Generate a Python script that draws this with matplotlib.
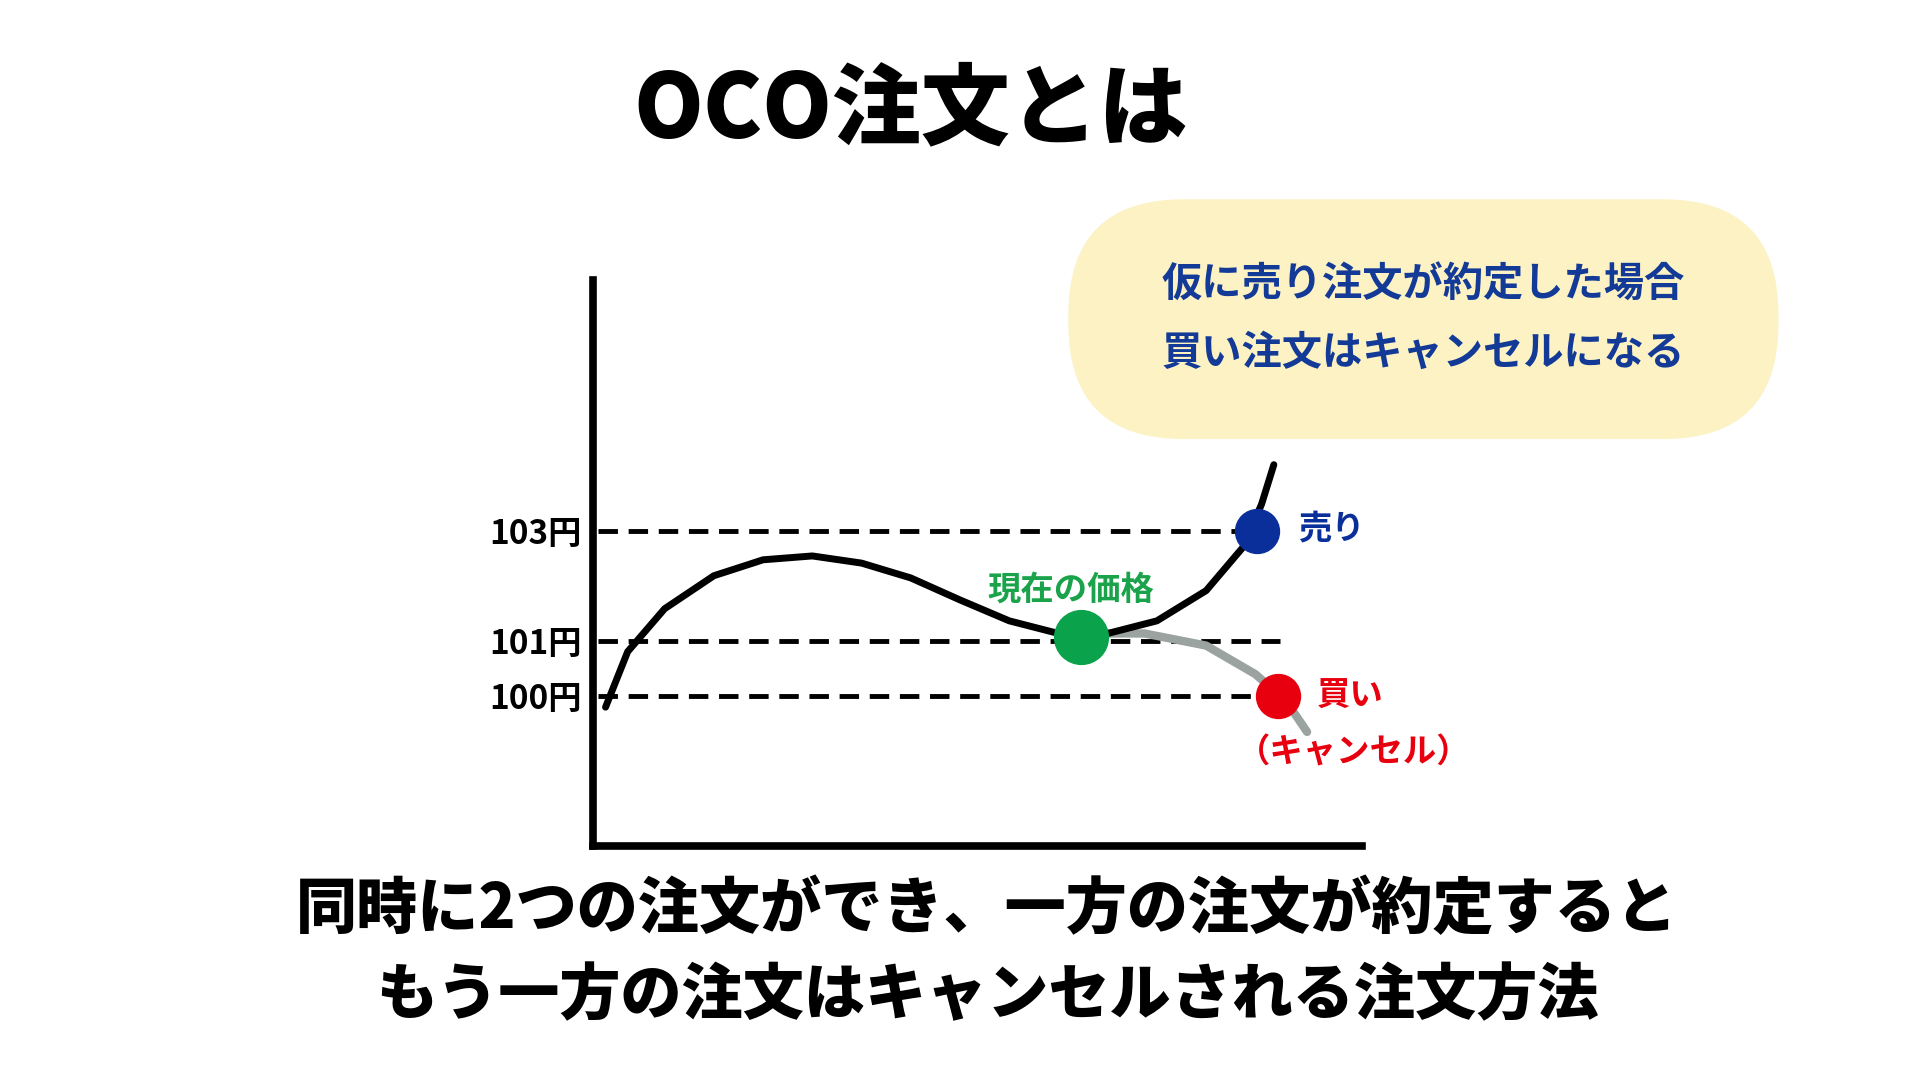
import numpy as np
import matplotlib
matplotlib.use('Agg')
import matplotlib.pyplot as plt
from matplotlib.patches import FancyBboxPatch

plt.rcParams['font.family'] = ['Noto Sans CJK JP', 'DejaVu Sans']

# Price levels and labels
levels = [103, 101, 100]
level_labels = ['103円', '101円', '100円']
level_ends = [538, 558, 553]  # where each dashed line stops (time units)

# Price path (time units 0..625, price in yen)
path_t = [10, 28, 58, 98, 138, 178, 218, 258, 298, 338, 378, 418, 458, 498, 528, 543, 553]
path_p = [99.80, 100.81, 101.59, 102.19, 102.48, 102.55, 102.42, 102.15, 101.75, 101.37, 101.14, 101.14, 101.37, 101.92, 102.71, 103.49, 104.21]
# Cancelled branch (grey)
gray_t = [398, 448, 498, 538, 563, 580]
gray_p = [101.14, 101.14, 100.92, 100.40, 99.91, 99.35]

# Markers
now_t, now_p = 396, 101.07
sell_t, sell_p = 539, 103.0
buy_t, buy_p = 556, 100.0

W, H = 1560, 878
fig = plt.figure(figsize=(19.2, 10.8), dpi=100)
fig.patch.set_facecolor('white')

ax = fig.add_axes([482 / W, 1 - 688 / H, 625 / W, (688 - 228) / H])
ax.set_xlim(0, 625)
ax.set_ylim(97.27, 107.56)
for s in ['top', 'right']:
    ax.spines[s].set_visible(False)
for s in ['left', 'bottom']:
    ax.spines[s].set_linewidth(5.5)
ax.set_xticks([])
ax.set_yticks(levels)
ax.set_yticklabels(level_labels, fontsize=24, fontweight='bold')
ax.tick_params(axis='y', length=0, pad=8)

for lv, end in zip(levels, level_ends):
    ax.plot([4, end], [lv, lv], color='black', lw=3.5, ls=(0, (4, 2.2)))

ax.plot(gray_t, gray_p, color='#9aa3a0', lw=6, solid_capstyle='round', clip_on=False)
ax.plot(path_t, path_p, color='black', lw=5, solid_capstyle='round', clip_on=False)

ax.scatter([now_t], [now_p], s=1500, color='#0aa24a', zorder=5, clip_on=False)
ax.scatter([sell_t], [sell_p], s=1000, color='#0a2f9a', zorder=5, clip_on=False)
ax.scatter([buy_t], [buy_p], s=1000, color='#e8000f', zorder=5, clip_on=False)

# Text in pixel coords of the reference
def ftext(x, y, s, **kw):
    fig.text(x / W, 1 - y / H, s, **kw)

ftext(740, 90, 'OCO注文とは', fontsize=64, fontweight='heavy', ha='center', va='center')
ftext(870, 480, '現在の価格', fontsize=24, fontweight='bold', color='#1aa34a', ha='center', va='center')
ftext(1055, 430, '売り', fontsize=24, fontweight='bold', color='#0a2f9a', ha='left', va='center')
ftext(1070, 566, '買い', fontsize=24, fontweight='bold', color='#e8000f', ha='left', va='center')
ftext(1100, 612, '（キャンセル）', fontsize=24, fontweight='bold', color='#e8000f', ha='center', va='center')

bub = FancyBboxPatch((868 / W, 1 - 357 / H), (1445 - 868) / W, (357 - 162) / H,
                     boxstyle='round,pad=0,rounding_size=0.06', transform=fig.transFigure,
                     facecolor='#fcf2c4', edgecolor='none', mutation_aspect=W / H)
fig.patches.append(bub)
ftext(1156, 232, '仮に売り注文が約定した場合', fontsize=29, fontweight='bold', color='#123a96', ha='center', va='center')
ftext(1156, 287, '買い注文はキャンセルになる', fontsize=29, fontweight='bold', color='#123a96', ha='center', va='center')

ftext(802, 740, '同時に2つの注文ができ、一方の注文が約定すると', fontsize=44, fontweight='heavy', ha='center', va='center')
ftext(802, 810, 'もう一方の注文はキャンセルされる注文方法', fontsize=44, fontweight='heavy', ha='center', va='center')

fig.savefig('out.png', dpi=100, facecolor='white')
